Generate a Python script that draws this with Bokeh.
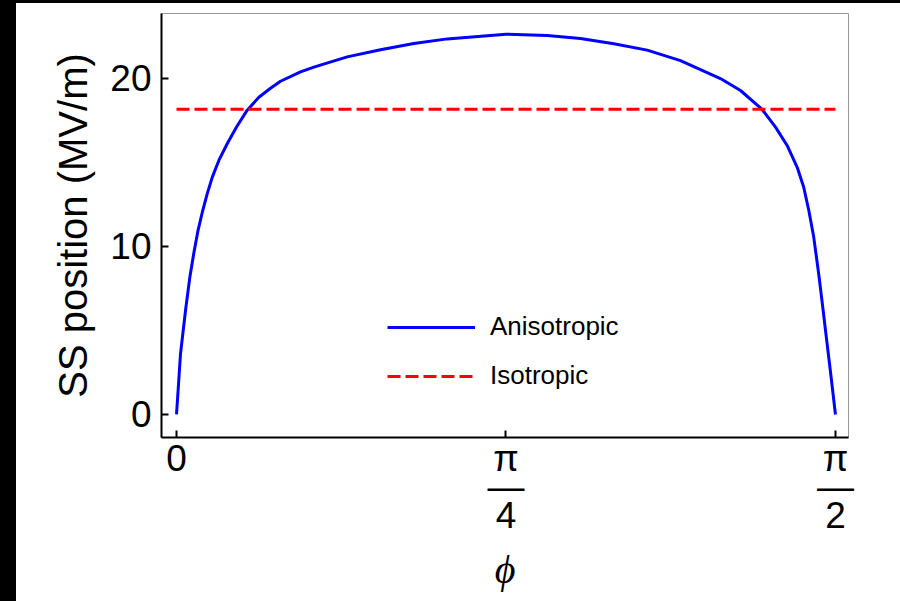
import math

from bokeh.embed import file_html
from bokeh.layouts import column, row
from bokeh.models import (FixedTicker, Legend, LegendItem, Range1d, Spacer)
from bokeh.plotting import figure
from bokeh.resources import INLINE

# Angle phi (rad) and SS position (MV/m) for the anisotropic case
phi = [0.0, 0.0095, 0.0215, 0.0318, 0.0413, 0.0509, 0.0612, 0.0731, 0.0851,
       0.1009, 0.1208, 0.143, 0.1685, 0.1963, 0.224, 0.2479, 0.2956,
       0.3274, 0.4069, 0.4863, 0.5656, 0.6453, 0.7854, 0.8836, 0.9629,
       1.0425, 1.122, 1.2014, 1.2966, 1.3445, 1.396, 1.4279, 1.4556, 1.4796,
       1.495, 1.5073, 1.519, 1.5312, 1.539, 1.5495, 1.5589, 1.5708]
ss_aniso = [0.0, 3.6, 6.2, 8.17, 9.6, 10.9, 12.0, 13.12, 14.1,
            15.11, 16.1, 17.1, 18.1, 18.87, 19.4, 19.82, 20.38,
            20.66, 21.27, 21.69, 22.06, 22.34, 22.62, 22.54, 22.36,
            22.05, 21.67, 21.05, 19.98, 19.27, 18.14, 17.09, 16.0, 14.7,
            13.53, 12.13, 10.55, 8.3, 6.7, 4.5, 2.55, 0.0]

# Isotropic case: constant over the full angle range
phi_iso = [0.0, math.pi / 2]
ss_iso = [18.15, 18.15]

x_ticks = [0.0, math.pi / 4, math.pi / 2]
x_tick_labels = ["0", "π\n—\n4", "π\n—\n2"]
y_ticks = [0, 10, 20]

FONT = "Liberation Sans"

p = figure(width=884, height=598, output_backend="svg", toolbar_location=None,
           x_range=Range1d(-0.0358, 1.6019), y_range=Range1d(-1.37, 23.85),
           min_border_left=145, min_border_right=52,
           min_border_top=10, min_border_bottom=164)

p.background_fill_color = "white"
p.border_fill_color = "white"
p.outline_line_color = "#999999"
p.outline_line_width = 1
p.grid.visible = False

r_aniso = p.line(phi, ss_aniso, line_color="#0000ff", line_width=3,
                 line_join="round")
r_iso = p.line(phi_iso, ss_iso, line_color="#ff0000", line_width=3,
               line_dash="13 5")

for ax in (p.xaxis, p.yaxis):
    ax.axis_line_color = "black"
    ax.axis_line_width = 2
    ax.major_tick_line_color = "black"
    ax.major_tick_line_width = 2
    ax.major_tick_in = 7
    ax.major_tick_out = 0
    ax.minor_tick_line_color = None
    ax.major_label_text_font = FONT
    ax.major_label_text_font_size = "37px"
    ax.major_label_text_color = "black"
    ax.axis_label_text_color = "black"
    ax.axis_label_text_font_style = "normal"

p.xaxis.ticker = FixedTicker(ticks=x_ticks)
p.xaxis.major_label_overrides = dict(zip(x_ticks, x_tick_labels))
p.xaxis.major_label_text_line_height = 0.7
p.xaxis.major_label_standoff = 0
p.xaxis.axis_label = "ϕ"
p.xaxis.axis_label_text_font = "Liberation Serif"
p.xaxis.axis_label_text_font_style = "italic"
p.xaxis.axis_label_text_font_size = "40px"
p.xaxis.axis_label_standoff = 8

p.yaxis.ticker = FixedTicker(ticks=y_ticks)
p.yaxis.major_label_standoff = 10
p.yaxis.axis_label = "SS position (MV/m)"
p.yaxis.axis_label_text_font = FONT
p.yaxis.axis_label_text_font_size = "40px"
p.yaxis.axis_label_standoff = 12

legend = Legend(items=[LegendItem(label="Anisotropic", renderers=[r_aniso]),
                       LegendItem(label="Isotropic", renderers=[r_iso])],
                location=(226, 46))
legend.background_fill_alpha = 0
legend.border_line_color = None
legend.padding = 0
legend.margin = 0
legend.glyph_width = 88
legend.glyph_height = 30
legend.label_height = 30
legend.spacing = 18
legend.label_standoff = 15
legend.label_text_font = FONT
legend.label_text_font_size = "26px"
legend.label_text_color = "black"
p.add_layout(legend, "center")

edge = {"background-color": "black"}
page = column(Spacer(width=900, height=3, styles=edge),
              row(Spacer(width=16, height=598, styles=edge), p))

open("out.html", "w").write(file_html(page, INLINE))
